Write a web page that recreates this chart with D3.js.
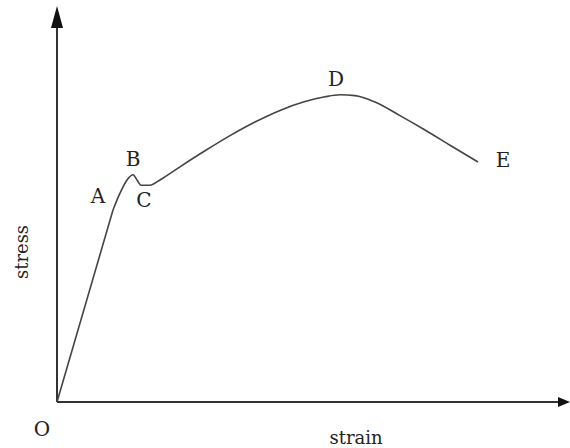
<!DOCTYPE html>
<html>
<head>
<meta charset="utf-8">
<script src="https://cdn.jsdelivr.net/npm/d3@7"></script>
<style>
  body { margin: 0; background: #fff; }
  text { font-family: "DejaVu Serif", "Liberation Serif", serif; fill: #222; }
</style>
</head>
<body>
<svg id="chart"></svg>
<script>
// elastic part, O -> A (straight)
const elasticStrain = [0, 11.2];
const elasticStress = [0, 48];

// A -> B -> C -> D -> E (curved)
const plasticStrain = [11.2, 12.6, 14.0, 15.2, 16.0, 16.8, 18.6, 20.6, 24.6, 29.6, 34.6, 39.6, 44.6, 49.6, 53.6, 56.6, 59.6, 63.6, 68.6, 73.6, 78.6, 84.2];
const plasticStress = [48, 52.2, 55.5, 56.8, 55.5, 54.2, 54.2, 55.5, 58.8, 62.8, 66.6, 70.0, 72.9, 75.1, 76.3, 76.8, 76.6, 75.0, 71.6, 68.0, 64.2, 60.0];

// point labels
const pointNames = ["O", "A", "B", "C", "D", "E"];
const pointStrain = [-3.0, 8.2, 15.2, 17.4, 55.8, 89.2];
const pointStress = [-8.5, 49.8, 59.0, 48.8, 79.0, 58.8];

const width = 570, height = 448;
const margin = { top: 2, right: 13, bottom: 46, left: 57 };

const svg = d3.select("#chart").attr("width", width).attr("height", height);

const x = d3.scaleLinear().domain([0, 100]).range([margin.left, margin.left + 500]);
const y = d3.scaleLinear().domain([0, 100]).range([height - margin.bottom, margin.top]);

const axisColor = "#333";

// axes
svg.append("line")
  .attr("x1", x(0)).attr("y1", y(0))
  .attr("x2", x(101)).attr("y2", y(0))
  .attr("stroke", axisColor).attr("stroke-width", 2);

svg.append("line")
  .attr("x1", x(0)).attr("y1", y(0))
  .attr("x2", x(0)).attr("y2", y(95))
  .attr("stroke", axisColor).attr("stroke-width", 2);

// arrow heads
svg.append("path")
  .attr("d", `M${x(0)},${y(99)} L${x(0) - 6},${y(93.5)} L${x(0) + 6},${y(93.5)} Z`)
  .attr("fill", "#111");

svg.append("path")
  .attr("d", `M${x(102.6)},${y(0)} L${x(100.2)},${y(0) - 5} L${x(100.2)},${y(0) + 5} Z`)
  .attr("fill", "#111");

// curve
const elastic = elasticStrain.map((s, i) => [s, elasticStress[i]]);
const plastic = plasticStrain.map((s, i) => [s, plasticStress[i]]);

const line = d3.line()
  .x(d => x(d[0]))
  .y(d => y(d[1]));

svg.append("path")
  .datum(elastic)
  .attr("fill", "none")
  .attr("stroke", "#444")
  .attr("stroke-width", 1.6)
  .attr("d", line);

svg.append("path")
  .datum(plastic)
  .attr("fill", "none")
  .attr("stroke", "#444")
  .attr("stroke-width", 1.6)
  .attr("d", line.curve(d3.curveMonotoneX));

// point letters
svg.selectAll(".pt-label")
  .data(pointNames)
  .enter()
  .append("text")
  .attr("class", "pt-label")
  .attr("text-anchor", "middle")
  .attr("x", (d, i) => x(pointStrain[i]))
  .attr("y", (d, i) => y(pointStress[i]))
  .style("font-size", "20px")
  .text(d => d);

// axis labels
svg.append("text")
  .attr("text-anchor", "middle")
  .attr("x", x(59.8))
  .attr("y", height - 4)
  .style("font-size", "18px")
  .text("strain");

svg.append("text")
  .attr("text-anchor", "middle")
  .attr("transform", `translate(${x(0) - 29},${y(37.5)}) rotate(-90)`)
  .style("font-size", "18px")
  .text("stress");
</script>
</body>
</html>
